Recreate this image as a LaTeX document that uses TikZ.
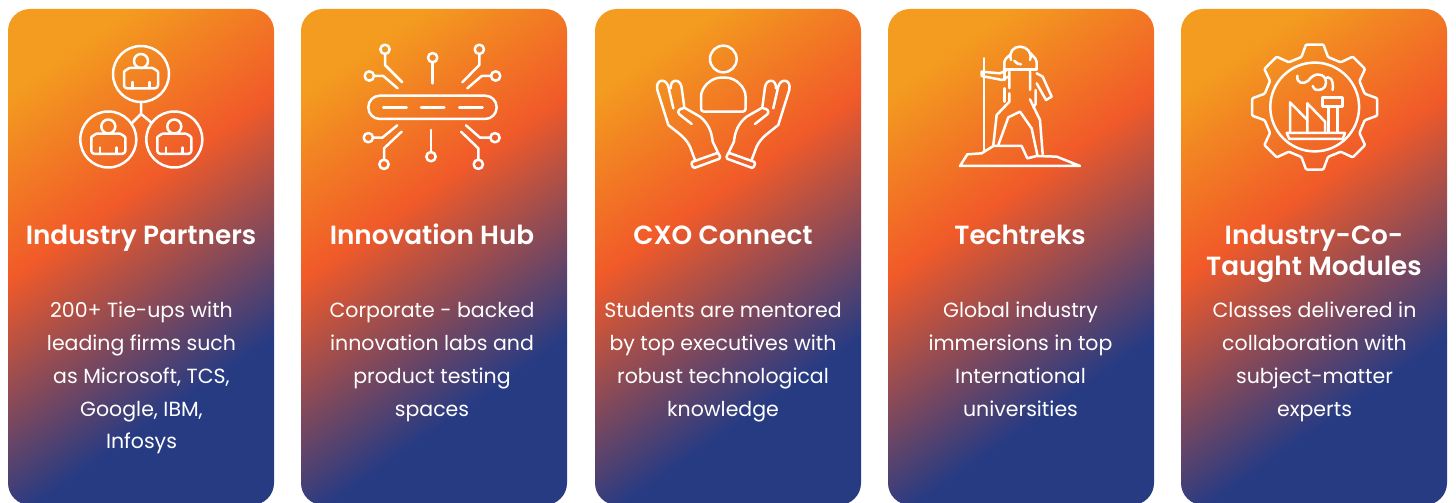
\documentclass[tikz,border=0pt]{standalone}
\usepackage{fontspec}
\setmainfont{Poppins}
\newfontfamily\titlefont{Poppins SemiBold}
\usetikzlibrary{calc}
\definecolor{gOrange}{HTML}{F39C1F}
\definecolor{gRed}{HTML}{F15A29}
\definecolor{gBlue}{HTML}{273B83}
\pgfdeclareverticalshading{cardgrad}{100bp}{color(0bp)=(gOrange); color(39.5bp)=(gOrange); color(47.1bp)=(gRed); color(57.1bp)=(gBlue); color(100bp)=(gBlue)}
\tikzset{
  ico/.style={draw=white,line width=2.5pt,line join=round,line cap=round,fill=none},
  title/.style={text=white,font=\titlefont\fontsize{26.3}{31}\selectfont,align=center,anchor=north,inner sep=0pt},
  body/.style={text=white,font=\fontsize{20.5}{32.8}\selectfont,align=center,anchor=north,inner sep=0pt},
  zoomed/.style={x=0.3333pt,y=-0.3333pt}
}
\newcommand{\cardbg}[1]{%
  \begin{scope}
    \clip[rounded corners=22pt] (#1,9) rectangle ++(266,496);
    \shade[shading=cardgrad,shading angle=215] (#1+133-500,257-500) rectangle (#1+133+500,257+500);
  \end{scope}}
\newcommand{\person}[2]{%
  \begin{scope}[shift={(#1,#2)}]
    \draw[ico] (0,-13) circle[radius=7];
    \draw[ico,rounded corners=3pt] (-17,14.3) -- (-17,1) .. controls (-17,-3) and (-12,-6) .. (-8,-6) -- (8,-6) .. controls (12,-6) and (17,-3) .. (17,1) -- (17,14.3) -- cycle;
    \draw[ico] (-8.3,8) -- (-8.3,14.3) (8.3,8) -- (8.3,14.3);
  \end{scope}}
\newcommand{\handshape}{%
    \draw[ico] (135,255) -- (120,215) .. controls (105,185) and (85,175) .. (55,150) -- (22,45) .. controls (15,12) and (48,8) .. (55,35) -- (70,100);
    \draw[ico] (62,40) .. controls (60,10) and (92,10) .. (95,38) -- (103,98) -- (150,125) .. controls (175,145) and (185,170) .. (188,200) -- (205,235);
    \draw[ico] (125,147) -- (88,118) .. controls (80,110) and (88,100) .. (100,100);
    \draw[ico,rounded corners=1.5pt] (123,262) -- (205,233) -- (212,250) -- (130,280) -- cycle;
}
\begin{document}
\begin{tikzpicture}[x=1pt,y=-1pt]
\useasboundingbox (0,0) rectangle (1456,503);
\fill[white] (0,0) rectangle (1456,503);
\cardbg{8}
\cardbg{301}
\cardbg{595}
\cardbg{888}
\cardbg{1181}

% card 1 icon
\draw[ico] (141,74) circle[radius=28];
\draw[ico] (108.3,139.5) circle[radius=28];
\draw[ico] (174.3,139.5) circle[radius=28];
\draw[ico] (141,102) -- (141,114) -- (132,123) (141,114) -- (152,123);
\person{141}{74}
\person{108.3}{139.5}
\person{174.3}{139.5}

% card 2 icon
\begin{scope}[shift={(340,30)},zoomed]
  \draw[ico,rounded corners=11.5pt] (85,197) rectangle (470,267);
  \draw[ico] (130,232) -- (200,232) (243,232) -- (313,232) (358,232) -- (428,232);
  \draw[ico] (278,83) circle[radius=14];
  \draw[ico] (278,97) -- (278,160);
  \draw[ico] (273,380) circle[radius=14];
  \draw[ico] (273,366) -- (273,300);
  \draw[ico] (135,58) circle[radius=14];
  \draw[ico] (135,72) -- (135,105) -- (187,157);
  \draw[ico] (88,138) circle[radius=14];
  \draw[ico] (102,138) -- (130,138) -- (173,175);
  \draw[ico] (418,58) circle[radius=14];
  \draw[ico] (418,72) -- (418,105) -- (367,157);
  \draw[ico] (467,138) circle[radius=14];
  \draw[ico] (453,138) -- (425,138) -- (382,175);
  \draw[ico] (85,323) circle[radius=14];
  \draw[ico] (99,323) -- (127,323) -- (172,286);
  \draw[ico] (132,403) circle[radius=14];
  \draw[ico] (132,389) -- (132,355) -- (185,305);
  \draw[ico] (465,323) circle[radius=14];
  \draw[ico] (451,323) -- (420,323) -- (378,286);
  \draw[ico] (415,403) circle[radius=14];
  \draw[ico] (415,389) -- (415,355) -- (363,305);
\end{scope}

% card 3 icon
\begin{scope}[shift={(640,30)},zoomed]
  \draw[ico] (250,87) circle[radius=40];
  \draw[ico,rounded corners=3pt] (183,245) -- (183,210) .. controls (183,170) and (215,143) .. (250,143) .. controls (285,143) and (317,170) .. (317,210) -- (317,245) -- cycle;
\end{scope}
\begin{scope}[shift={(650,75)},zoomed]
  \handshape
\end{scope}
\begin{scope}[shift={(796.6,75)},zoomed,xscale=-1]
  \handshape
\end{scope}

% card 4 icon
\begin{scope}[shift={(940,30)},zoomed]
  \draw[ico] (132,85) -- (132,360);
  \draw[ico] (60,408) -- (82,373) -- (125,370) -- (160,348) -- (245,348) -- (262,385) -- (290,378) -- (350,380) -- (420,408) -- cycle;
  \draw[ico] (213,90) .. controls (205,65) and (222,50) .. (240,50) .. controls (258,50) and (278,65) .. (270,90);
  \draw[ico] (223,92) .. controls (228,100) and (235,103) .. (243,103);
  \draw[ico,rounded corners=2pt] (193,118) -- (193,90) -- (213,72);
  \draw[ico,rounded corners=2pt] (290,118) -- (290,90) -- (270,68);
  \draw[ico] (193,118) -- (290,118);
  \draw[ico] (205,118) -- (180,130) -- (125,125) -- (125,138) -- (187,150) -- (205,140);
  \draw[ico] (208,125) -- (208,175) (208,190) -- (208,215) -- (170,255) -- (160,345);
  \draw[ico] (270,125) -- (270,180) (270,208) -- (300,270) -- (308,372);
  \draw[ico] (175,345) -- (205,262) -- (240,245) -- (275,295) -- (292,375);
  \draw[ico] (290,130) -- (308,140) -- (335,200) -- (318,210) -- (290,160);
  \draw[ico] (193,118) -- (193,150) (193,175) -- (193,215);
  \draw[ico] (287,180) -- (287,222) -- (280,232);
\end{scope}

% card 5 icon
\begin{scope}[shift={(1314.7,107)}]
  \draw[ico,rounded corners=1pt] (-14.9:51.7) -- (-7.9:63.1) -- (7.9:63.1) -- (14.9:51.7)
    -- (30.1:51.7) -- (37.1:63.1) -- (52.9:63.1) -- (59.9:51.7)
    -- (75.1:51.7) -- (82.1:63.1) -- (97.9:63.1) -- (104.9:51.7)
    -- (120.1:51.7) -- (127.1:63.1) -- (142.9:63.1) -- (149.9:51.7)
    -- (165.1:51.7) -- (172.1:63.1) -- (187.9:63.1) -- (194.9:51.7)
    -- (210.1:51.7) -- (217.1:63.1) -- (232.9:63.1) -- (239.9:51.7)
    -- (255.1:51.7) -- (262.1:63.1) -- (277.9:63.1) -- (284.9:51.7)
    -- (300.1:51.7) -- (307.1:63.1) -- (322.9:63.1) -- (329.9:51.7) -- cycle;
  \draw[ico] (0,0) circle[radius=44.4];
\end{scope}
\begin{scope}[shift={(1235,30)},zoomed]
  \draw[ico] (155,309) -- (330,309) -- (323,327) -- (163,327) -- cycle;
  \draw[ico] (165,305) -- (165,217) -- (217,270) (217,305) -- (217,220) -- (270,275) -- (270,305);
  \draw[ico] (280,230) -- (280,305) (307,230) -- (307,305);
  \draw[ico] (263,203) rectangle (323,230);
  \draw[ico] (187,137) .. controls (184,160) and (205,165) .. (220,152) .. controls (235,130) and (260,127) .. (270,145) .. controls (278,165) and (268,180) .. (250,180) .. controls (240,180) and (235,175) .. (233,168);
  \draw[ico] (270,145) .. controls (280,138) and (297,142) .. (293,180);
\end{scope}

% texts
\node[title] (t1) at (141,222.8) {\strut Industry Partners};
\node[title] (t2) at (432,222.8) {\strut Innovation Hub};
\node[title] (t3) at (723,222.8) {\strut CXO Connect};
\node[title] (t4) at (1020,222.8) {\strut Techtreks};
\node[title] (t5) at (1314,222.8) {\strut Industry-Co-\\Taught Modules};
\node[body] (b1) at (141.5,294.5) {\strut 200+ Tie-ups with\\leading firms such\\as Microsoft, TCS,\\Google, IBM,\\Infosys};
\node[body] (b2) at (432,294.5) {\strut Corporate - backed\\innovation labs and\\product testing\\spaces};
\node[body] (b3) at (723,294.5) {\strut Students are mentored\\by top executives with\\robust technological\\knowledge};
\node[body] (b4) at (1020.5,294.5) {\strut Global industry\\immersions in top\\International\\universities};
\node[body] (b5) at (1314.5,294.5) {\strut Classes delivered in\\collaboration with\\subject-matter\\experts};
\end{tikzpicture}
\end{document}
